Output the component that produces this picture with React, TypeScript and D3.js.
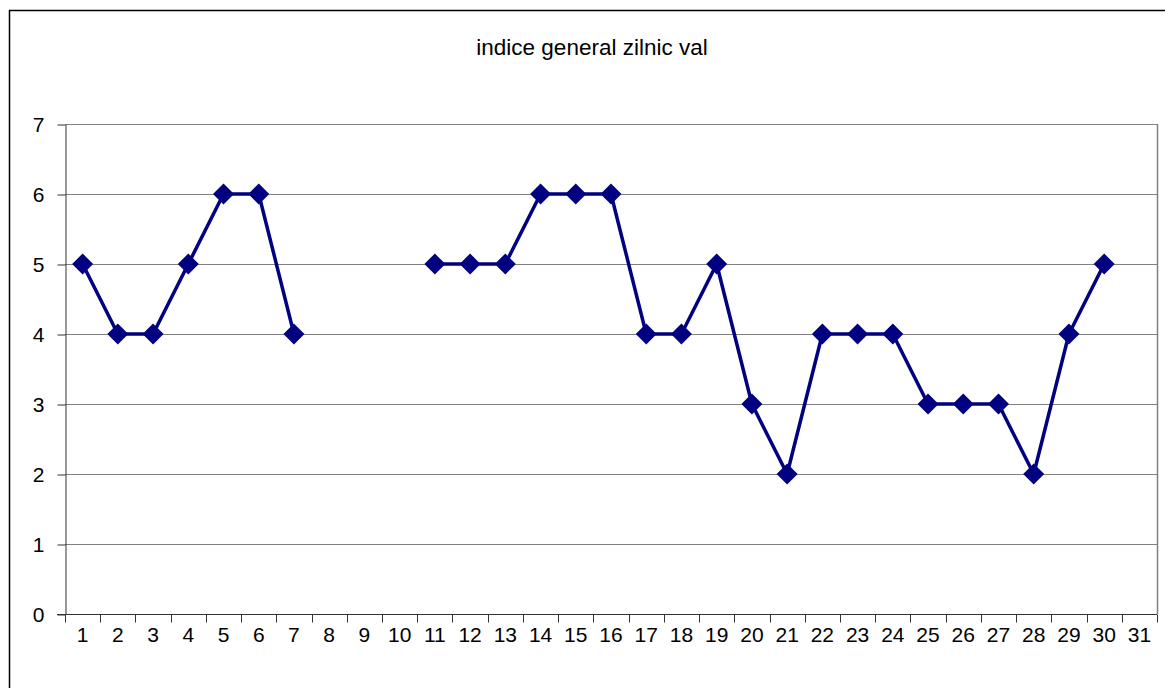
import React, { useRef, useEffect } from "react";
import * as d3 from "d3";

const days = d3.range(1, 32).map(String);
const values: (number | null)[] = [
  5, 4, 4, 5, 6, 6, 4, null, null, null,
  5, 5, 5, 6, 6, 6, 4, 4, 5, 3,
  2, 4, 4, 4, 3, 3, 3, 2, 4, 5, null,
];
const yTicks = [0, 1, 2, 3, 4, 5, 6, 7];
const title = "indice general zilnic val";

const W = 1165;
const H = 688;
const FONT = "Liberation Sans, Arial, sans-serif";

export default function App() {
  const ref = useRef<SVGSVGElement>(null);

  useEffect(() => {
    const svg = d3.select(ref.current);
    svg.selectAll("*").remove();

    const left = 65, right = 1157, top = 124, bottom = 614;

    // outer chart border (right/bottom fall outside the picture)
    svg.append("rect")
      .attr("x", 9.5).attr("y", 10.5)
      .attr("width", 1170).attr("height", 690)
      .attr("fill", "#fff").attr("stroke", "#000").attr("stroke-width", 1.5);

    svg.append("text")
      .attr("x", 592).attr("y", 55)
      .attr("text-anchor", "middle")
      .attr("font-family", FONT)
      .attr("font-size", 22.5)
      .text(title);

    const x = d3.scaleBand().domain(days).range([left, right]);
    const y = d3.scaleLinear().domain([0, 7]).range([bottom, top]);

    // gridlines
    svg.append("g").selectAll("line")
      .data(yTicks.filter((t) => t > 0))
      .enter().append("line")
      .attr("x1", left).attr("x2", right)
      .attr("y1", (d) => y(d) + 0.5).attr("y2", (d) => y(d) + 0.5)
      .attr("stroke", "#808080").attr("stroke-width", 1);

    // right edge of plot area
    svg.append("line")
      .attr("x1", right + 0.5).attr("x2", right + 0.5)
      .attr("y1", top).attr("y2", bottom)
      .attr("stroke", "#808080").attr("stroke-width", 1.5);

    const yAxis = svg.append("g")
      .attr("transform", `translate(${left + 0.5},0.5)`)
      .call(d3.axisLeft(y).tickValues(yTicks).tickFormat(d3.format("d"))
        .tickSize(8).tickPadding(13).tickSizeOuter(0));
    yAxis.select(".domain").attr("stroke", "#333");
    yAxis.selectAll(".tick line").attr("stroke", "#333");
    yAxis.selectAll("text")
      .attr("font-family", FONT)
      .attr("font-size", 21).attr("fill", "#000");

    const xAxis = svg.append("g")
      .attr("transform", `translate(0,${bottom + 0.5})`)
      .call(d3.axisBottom(x).tickSize(0).tickPadding(13));
    xAxis.select(".domain").remove();
    xAxis.append("line")
      .attr("x1", left - 8).attr("x2", right)
      .attr("stroke", "#333");
    xAxis.selectAll(".catTick")
      .data(d3.range(0, 32))
      .enter().append("line")
      .attr("x1", (i) => Math.round(left + i * x.bandwidth()) + 0.5)
      .attr("x2", (i) => Math.round(left + i * x.bandwidth()) + 0.5)
      .attr("y1", 0).attr("y2", 8)
      .attr("stroke", "#333");
    xAxis.selectAll("text")
      .attr("font-family", FONT)
      .attr("font-size", 21).attr("fill", "#000");

    const pts = days.map((d, i) => ({ d, v: values[i] }));
    const line = d3.line<{ d: string; v: number | null }>()
      .defined((p) => p.v !== null)
      .x((p) => (x(p.d) as number) + x.bandwidth() / 2)
      .y((p) => y(p.v as number));

    svg.append("path")
      .datum(pts)
      .attr("d", line)
      .attr("fill", "none")
      .attr("stroke", "#000080")
      .attr("stroke-width", 3.5)
      .attr("stroke-linejoin", "round");

    const s = 10.5;
    svg.append("g").selectAll("path")
      .data(pts.filter((p) => p.v !== null))
      .enter().append("path")
      .attr("transform", (p) => `translate(${(x(p.d) as number) + x.bandwidth() / 2},${y(p.v as number)})`)
      .attr("d", `M0,${-s}L${s},0L0,${s}L${-s},0Z`)
      .attr("fill", "#000080");
  }, []);

  return (
    <svg
      ref={ref}
      width={W}
      height={H}
      style={{ position: "absolute", left: 0, top: 0, background: "#fff" }}
    />
  );
}
